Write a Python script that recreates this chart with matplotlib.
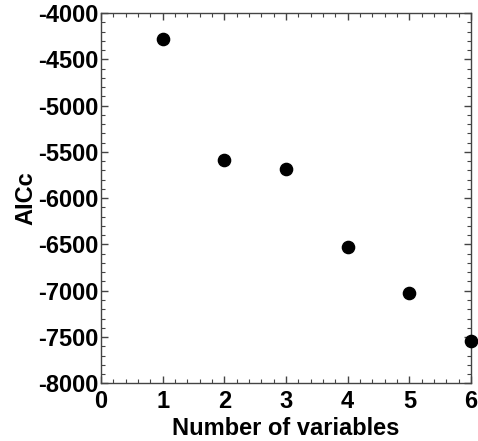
import matplotlib

matplotlib.use("Agg")

import matplotlib.pyplot as plt  # noqa: E402
from matplotlib.ticker import MultipleLocator  # noqa: E402

n_vars = [1, 2, 3, 4, 5, 6]
aicc = [-4280, -5590, -5690, -6525, -7020, -7543]

plt.rcParams["font.family"] = ["Liberation Sans", "DejaVu Sans"]
plt.rcParams["font.weight"] = "bold"
plt.rcParams["axes.unicode_minus"] = False

fig = plt.figure(figsize=(4.78, 4.41), dpi=100)
ax = fig.add_axes([0.2113, 0.1308, 0.7741, 0.8397])

ax.plot(n_vars, aicc, "o", color="black", markersize=8.8, clip_on=False, zorder=3)

ax.set_xlim(0, 6)
ax.set_ylim(-8000, -4000)
ax.xaxis.set_major_locator(MultipleLocator(1))
ax.xaxis.set_minor_locator(MultipleLocator(0.2))
ax.yaxis.set_major_locator(MultipleLocator(500))
ax.yaxis.set_minor_locator(MultipleLocator(100))

ax.tick_params(which="both", direction="in", top=True, right=True, color="#444444")
ax.tick_params(which="major", length=5, width=1.0, labelsize=17)
ax.tick_params(axis="x", which="major", pad=5)
ax.tick_params(axis="y", which="major", pad=2)
ax.tick_params(which="minor", length=3, width=0.8)
for lab in ax.get_xticklabels() + ax.get_yticklabels():
    lab.set_fontweight("bold")
for sp in ax.spines.values():
    sp.set_color("#444444")
    sp.set_linewidth(1.0)

ax.set_xlabel("Number of variables", fontsize=17, fontweight="bold", labelpad=3)
ax.set_ylabel("AICc", fontsize=17, fontweight="bold", labelpad=0)

fig.savefig("out.png", dpi=100)
